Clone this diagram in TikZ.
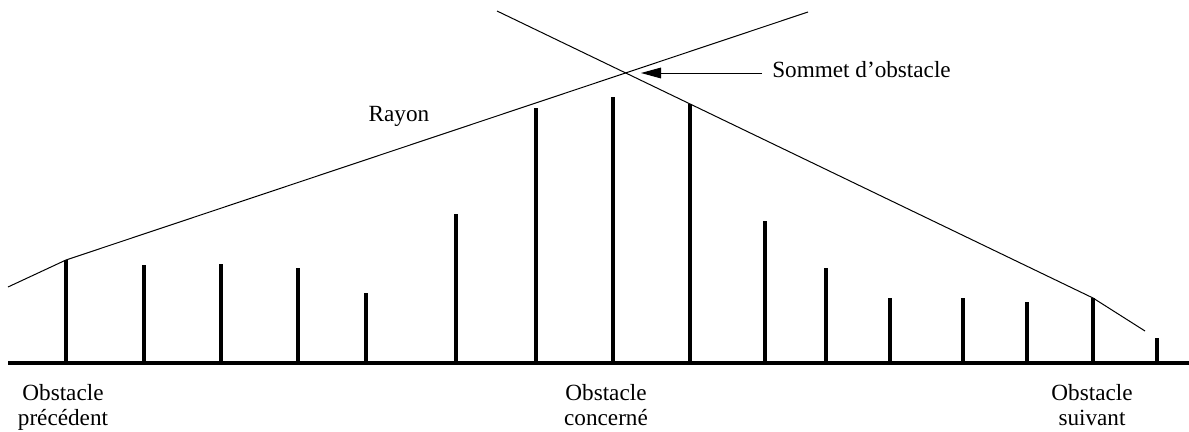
\documentclass[tikz,border=0pt]{standalone}
\usepackage{fontspec}
\setmainfont{Liberation Serif}
\usetikzlibrary{arrows.meta}
\begin{document}
\begin{tikzpicture}[x=0.75pt,y=-0.75pt,
  bar/.style={line width=2.4pt},
  ground/.style={line width=2.6pt},
  thin/.style={line width=0.75pt},
  lbl/.style={inner sep=0pt,font=\fontsize{17.4pt}{19pt}\selectfont,align=center},
  arr/.style={line width=0.75pt,-{Triangle[length=15pt,width=8pt]}}]
\useasboundingbox (0,0) rectangle (1189,432);
% ground
\coordinate (g0) at (8,363);
\coordinate (g1) at (1189,363);
\draw[ground] (g0) -- (g1);
% bars
\foreach \n/\x/\t in {1/66/260,2/144/265,3/221/264,4/298/268,5/366/293,6/456/214,
  7/536/108,8/613/97,9/690/104,10/765/221,11/826/268,12/890/298,13/963/298,
  14/1027/302,15/1093/298,16/1157/338}{
  \coordinate (b\n) at (\x,363);
  \coordinate (t\n) at (\x,\t);
  \draw[bar] (b\n) -- (t\n);
}
% ray lines
\coordinate (rl) at (8,287);
\coordinate (rtop) at (808,12);
\coordinate (sl) at (497,11);
\coordinate (send) at (1145,331);
\draw[thin] (rl) -- (t1) -- (rtop);
\draw[thin] (sl) -- (t15) -- (send);
% apex
\coordinate (apex) at (641,73);
\coordinate (tail) at (762,73);
\node[lbl,anchor=base west] (som) at (772,77.5) {Sommet d’obstacle};
\draw[arr] (tail) -- (apex);
\node[lbl] (ray) at (399,116) {Rayon};
% bottom labels
\node[lbl,anchor=north] (prec) at (63,384) {Obstacle\\précédent};
\node[lbl,anchor=north] (conc) at (606,384) {Obstacle\\concerné};
\node[lbl,anchor=north] (suiv) at (1092,384) {Obstacle\\suivant};
\end{tikzpicture}
\end{document}
